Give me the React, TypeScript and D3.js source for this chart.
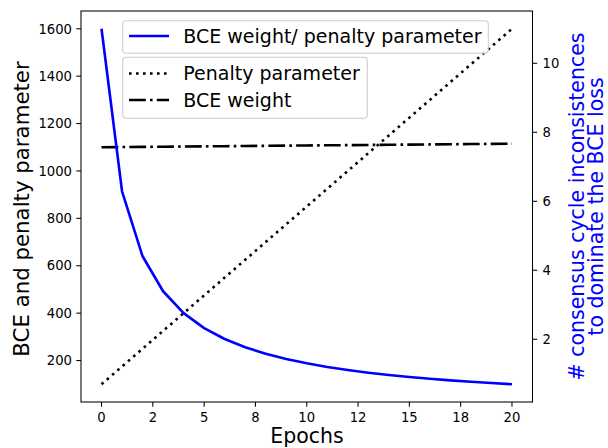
import React from "react";
import * as d3 from "d3";

const epochs = [0, 1, 2, 3, 4, 5, 6, 7, 8, 9, 10, 11, 12, 13, 14, 15, 16, 17, 18, 19, 20];
const penalty = [100, 175, 250, 325, 400, 475, 550, 625, 700, 775, 850, 925, 1000, 1075, 1150, 1225, 1300, 1375, 1450, 1525, 1600];
const bceWeight = [1100, 1100.8, 1101.5, 1102.3, 1103, 1103.8, 1104.5, 1105.3, 1106, 1106.8, 1107.5, 1108.3, 1109, 1109.8, 1110.5, 1111.3, 1112, 1112.8, 1113.5, 1114.3, 1115];
const ratio = [11.0, 6.29, 4.406, 3.392, 2.758, 2.324, 2.008, 1.768, 1.58, 1.428, 1.303, 1.198, 1.109, 1.032, 0.966, 0.907, 0.855, 0.809, 0.768, 0.731, 0.697];

const xTicks = [0, 2.5, 5, 7.5, 10, 12.5, 15, 17.5, 20];
const xTickLabels = ["0", "2", "5", "8", "10", "12", "15", "18", "20"];
const leftTicks = [200, 400, 600, 800, 1000, 1200, 1400, 1600];
const rightTicks = [2, 4, 6, 8, 10];

const W = 608, H = 448;
const L = 81, R = 532.5, T = 11, B = 402;
const FONT = "DejaVu Sans, sans-serif";

export default function App() {
  const x = d3.scaleLinear().domain([-1, 21]).range([L, R]);
  const yL = d3.scaleLinear().domain([25, 1675]).range([B, T]);
  const yR = d3.scaleLinear().domain([0.182, 11.515]).range([B, T]);

  const lineL = (vals: number[]) =>
    d3.line<number>().x((_, i) => x(epochs[i])).y((d) => yL(d))(vals) || "";
  const lineR = (vals: number[]) =>
    d3.line<number>().x((_, i) => x(epochs[i])).y((d) => yR(d))(vals) || "";

  const lw = 2.6;
  const dotted = "2.6 4.4";
  const dashdot = "16.8 4.2 2.6 4.2";

  return (
    <svg width={W} height={H} style={{ position: "absolute", left: 0, top: 0, background: "#fff" }} fontFamily={FONT}>
      <rect x={0} y={0} width={W} height={H} fill="#fff" />
      {/* lines */}
      <path d={lineL(penalty)} fill="none" stroke="#000" strokeWidth={lw} strokeDasharray={dotted} />
      <path d={lineL(bceWeight)} fill="none" stroke="#000" strokeWidth={lw} strokeDasharray={dashdot} />
      <path d={lineR(ratio)} fill="none" stroke="#0000ff" strokeWidth={lw} strokeLinejoin="round" />

      {/* spines */}
      <rect x={L} y={T} width={R - L} height={B - T} fill="none" stroke="#000" strokeWidth={1.05} />

      {/* x ticks */}
      {xTicks.map((t, i) => (
        <g key={"x" + i}>
          <line x1={x(t)} x2={x(t)} y1={B} y2={B + 4.7} stroke="#000" strokeWidth={1.05} />
          <text x={x(t)} y={422} fontSize={13.2} textAnchor="middle" fill="#000">{xTickLabels[i]}</text>
        </g>
      ))}
      {/* left ticks */}
      {leftTicks.map((t) => (
        <g key={"l" + t}>
          <line x1={L - 4.7} x2={L} y1={yL(t)} y2={yL(t)} stroke="#000" strokeWidth={1.05} />
          <text x={72} y={yL(t)} dy="0.36em" fontSize={13.2} textAnchor="end" fill="#000">{t}</text>
        </g>
      ))}
      {/* right ticks */}
      {rightTicks.map((t) => (
        <g key={"r" + t}>
          <line x1={R} x2={R + 4.7} y1={yR(t)} y2={yR(t)} stroke="#000" strokeWidth={1.05} />
          <text x={542.5} y={yR(t)} dy="0.36em" fontSize={13.2} textAnchor="start" fill="#000">{t}</text>
        </g>
      ))}

      {/* axis labels */}
      <text x={307} y={442.5} fontSize={20.5} textAnchor="middle" fill="#000">Epochs</text>
      <text transform="translate(28.5,209) rotate(-90)" fontSize={21.3} textAnchor="middle" fill="#000">BCE and penalty parameter</text>
      <text transform="translate(584,206.5) rotate(-90)" fontSize={20.5} textAnchor="middle" fill="#0000ff">
        # consensus cycle inconsistences
      </text>
      <text transform="translate(603,206.5) rotate(-90)" fontSize={20.5} textAnchor="middle" fill="#0000ff">
        to dominate the BCE loss
      </text>

      {/* legend 1 */}
      <rect x={122.7} y={20.7} width={365.6} height={32.6} rx={3.5} fill="#fff" fillOpacity={0.8} stroke="#cccccc" strokeWidth={1.05} />
      <line x1={129} x2={169} y1={36} y2={36} stroke="#0000ff" strokeWidth={lw} />
      <text x={183.3} y={36} dy="0.36em" fontSize={19} fill="#000">BCE weight/ penalty parameter</text>

      {/* legend 2 */}
      <rect x={122.7} y={57.3} width={244.6} height={61} rx={3.5} fill="#fff" fillOpacity={0.8} stroke="#cccccc" strokeWidth={1.05} />
      <line x1={129} x2={169} y1={73.5} y2={73.5} stroke="#000" strokeWidth={lw} strokeDasharray={dotted} />
      <text x={183.3} y={73.5} dy="0.36em" fontSize={19} fill="#000">Penalty parameter</text>
      <line x1={129} x2={169} y1={100} y2={100} stroke="#000" strokeWidth={lw} strokeDasharray={dashdot} />
      <text x={183.3} y={100} dy="0.36em" fontSize={19} fill="#000">BCE weight</text>
    </svg>
  );
}
